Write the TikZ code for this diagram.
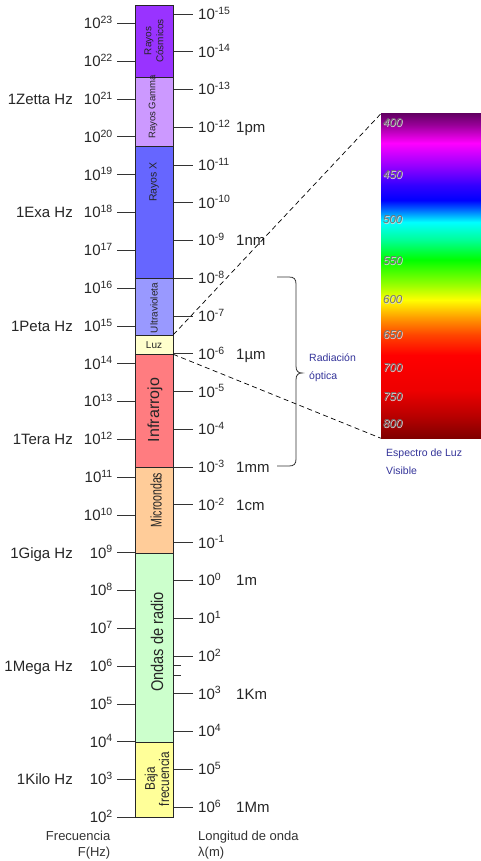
\documentclass[tikz,border=0pt]{standalone}
\usepackage{fontspec}
\setmainfont{Liberation Sans}
\usetikzlibrary{positioning}

\definecolor{cosmcol}{HTML}{9933FF}
\definecolor{gamcol}{HTML}{CC99FF}
\definecolor{rxcol}{HTML}{6666FF}
\definecolor{uvcol}{HTML}{9999FF}
\definecolor{luzcol}{HTML}{FFFFCC}
\definecolor{ircol}{HTML}{FF7C80}
\definecolor{miccol}{HTML}{FFCC99}
\definecolor{radcol}{HTML}{CCFFCC}
\definecolor{bajacol}{HTML}{FFFF99}
\definecolor{optcol}{HTML}{333399}
% colours of the visible spectrum
\definecolor{sa}{HTML}{800000}
\definecolor{sb}{HTML}{BB0000}
\definecolor{sc}{HTML}{EE0000}
\definecolor{sd}{HTML}{FF0000}
\definecolor{se}{HTML}{FF4400}
\definecolor{sf}{HTML}{FF9900}
\definecolor{sg}{HTML}{FFFF00}
\definecolor{sh}{HTML}{99FF00}
\definecolor{si}{HTML}{00FF00}
\definecolor{sj}{HTML}{00FF99}
\definecolor{sk}{HTML}{00FFFF}
\definecolor{sl}{HTML}{0055FF}
\definecolor{sm}{HTML}{0000FF}
\definecolor{sn}{HTML}{3300FF}
\definecolor{so}{HTML}{9900FF}
\definecolor{sp}{HTML}{FF00FF}
\definecolor{sq}{HTML}{990099}
\definecolor{sr}{HTML}{660066}
\pgfdeclareverticalshading{visspec}{100bp}{color(0bp)=(sa); color(25bp)=(sa);
  color(28.6bp)=(sb); color(32.4bp)=(sc); color(37.8bp)=(sd); color(40.9bp)=(se);
  color(43.5bp)=(sf); color(46.3bp)=(sg); color(48.6bp)=(sh); color(52.5bp)=(si);
  color(55.6bp)=(sj); color(58.3bp)=(sk); color(60.5bp)=(sl); color(61.7bp)=(sm);
  color(64bp)=(sn); color(67.1bp)=(so); color(70.5bp)=(sp); color(73.3bp)=(sq);
  color(75bp)=(sr); color(100bp)=(sr)}

\begin{document}
\begin{tikzpicture}[x=1pt,y=-1pt,
    band/.style={draw=black!85, line width=0.7pt, minimum width=38, inner sep=0pt},
    tick/.style={draw=black!80, line width=0.8pt},
    fnum/.style={anchor=base east, yshift=-5.4pt, inner sep=0pt, text=black!85, font=\fontsize{15}{18}\selectfont},
    lnum/.style={anchor=base west, yshift=-5.4pt, inner sep=0pt, text=black!85, font=\fontsize{15}{18}\selectfont},
    bandtext/.style={inner sep=0pt, text=black!85, align=center},
    speclab/.style={anchor=west, inner sep=0pt, text=black!55, font=\fontsize{11.5}{12}\selectfont\itshape},
    specglow/.style={speclab, text=white!85!black, xshift=0.6pt, yshift=-0.6pt},
    note/.style={inner sep=0pt, text=optcol, font=\fontsize{10.5}{18}\selectfont},
    axis/.style={inner sep=0pt, text=black!80, font=\fontsize{13}{16}\selectfont},
    dashline/.style={dash pattern=on 5pt off 3.5pt, line width=0.7pt}]
    \useasboundingbox (0,0) rectangle (481,861);

    % Frequency scale
    \foreach \e [evaluate=\e as \y using {23.5+(23-\e)*37.8}] in {2,...,23} {
        \draw[tick] (117,\y) -- (135,\y);
        \node[fnum] (f\e) at (113,\y) {10\textsuperscript{\e}};
    }
    \foreach \e/\txt in {21/1Zetta Hz, 18/1Exa Hz, 15/1Peta Hz, 12/1Tera Hz, 9/1Giga Hz, 6/1Mega Hz, 3/1Kilo Hz} {
        \pgfmathsetmacro{\y}{23.5+(23-\e)*37.8}
        \node[fnum] (fu\e) at (73,\y) {\txt};
    }

    % Wavelength scale
    \foreach \e [count=\i, evaluate=\e as \y using {14+(\e+15)*37.76}] in {-15,...,6} {
        \draw[tick] (173,\y) -- (193,\y);
        \node[lnum] (lam\i) at (198,\y) {10\textsuperscript{\e}};
    }
    \foreach \e/\txt [count=\i] in {-12/1pm, -9/1nm, -6/1µm, -3/1mm, -2/1cm, 0/1m, 3/1Km, 6/1Mm} {
        \pgfmathsetmacro{\y}{14+(\e+15)*37.76}
        \node[lnum] (lu\i) at (236,\y) {\txt};
    }
    \draw[tick] (173,665) -- (181,665);
    \draw[tick] (173,675) -- (181,675);

    % Bands
    \foreach \n/\t/\b/\c in {cosm/5/77/cosmcol, gam/77/146/gamcol, rx/146/278/rxcol,
        uv/278/335/uvcol, luz/335/354/luzcol, ir/354/467/ircol, mic/467/553/miccol,
        rad/553/742/radcol, baja/742/817/bajacol}
        \node[band, fill=\c, minimum height={\b-\t}] (\n) at (154,{(\t+\b)/2}) {};

    \node[bandtext, rotate=90, font=\fontsize{10}{12}\selectfont] (cosmt) at (154,41) {Rayos\\Cósmicos};
    \node[bandtext, rotate=90, font=\fontsize{9.5}{12}\selectfont] (gamt) at (153,107) {Rayos Gamma};
    \node[bandtext, rotate=90, font=\fontsize{10.5}{12}\selectfont] (rxt) at (154,182) {Rayos X};
    \node[bandtext, rotate=90, font=\fontsize{10}{12}\selectfont] (uvt) at (154,308) {Ultravioleta};
    \node[bandtext, font=\fontsize{10}{12}\selectfont] (luzt) at (154,345) {Luz};
    \node[bandtext, rotate=90, font=\fontsize{16}{18}\selectfont] (irt) at (155,410) {Infrarrojo};
    \node[bandtext, rotate=90, font=\fontsize{15.5}{16}\selectfont] (mict) at (156,500) {\scalebox{0.68}[1]{Microondas}};
    \node[bandtext, rotate=90, font=\fontsize{17}{18}\selectfont] (radt) at (157,642) {\scalebox{0.86}[1]{Ondas de radio}};
    \node[bandtext, rotate=90, font=\fontsize{14}{13}\selectfont] (bajat) at (157,779) {\scalebox{0.84}[1]{Baja}\\\scalebox{0.84}[1]{frecuencia}};

    % Visible spectrum
    \node[minimum width=100, minimum height=324, inner sep=0pt, shading=visspec] (spec) at (431,276) {};
    \foreach \v/\y in {400/123, 450/175, 500/220, 550/261, 600/300, 650/335, 700/368, 750/397, 800/424} {
        \node[specglow] (nmg\v) at (383,\y) {\v};
        \node[speclab] (nm\v) at (383,\y) {\v};
    }
    \draw[dashline] (luz.north east) -- (spec.north west);
    \draw[dashline] (luz.south east) -- (spec.south west);

    % Optical radiation brace
    \draw[line width=0.8pt, black!80] (277,277) -- (289,277) .. controls (294,277) and (296,279) .. (296,284)
        -- (296,366) .. controls (296,371) and (298,373) .. (302,373)
        .. controls (298,373) and (296,375) .. (296,380) -- (296,459)
        .. controls (296,464) and (294,466) .. (289,466) -- (277,466);
    \node[note, anchor=west, align=left] (opt) at (309,368) {Radiación\\óptica};
    \node[note, anchor=west, align=left] (vis) at (386,462) {Espectro de Luz\\Visible};

    % Axis titles
    \node[axis, anchor=east, align=right] (ftit) at (110.5,845) {Frecuencia\\F(Hz)};
    \node[axis, anchor=west, align=left] (ltit) at (198,845) {Longitud de onda\\λ(m)};
\end{tikzpicture}
\end{document}
